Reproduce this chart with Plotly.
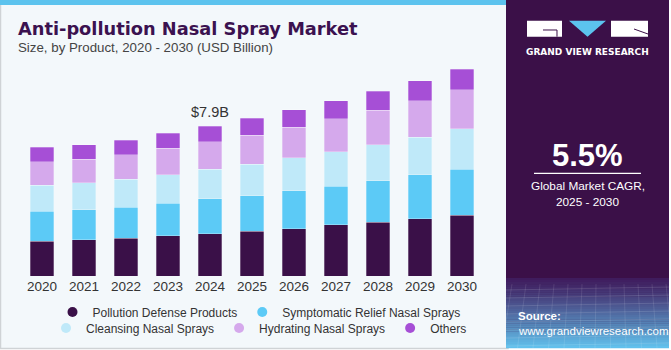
import plotly.graph_objects as go

years = ["2020", "2021", "2022", "2023", "2024", "2025", "2026", "2027", "2028", "2029", "2030"]
pollution_defense = [1.84, 1.90, 1.98, 2.12, 2.23, 2.35, 2.49, 2.69, 2.84, 3.02, 3.21]
symptomatic_relief = [1.58, 1.60, 1.65, 1.71, 1.83, 1.88, 1.99, 2.05, 2.18, 2.30, 2.42]
cleansing = [1.37, 1.40, 1.46, 1.49, 1.56, 1.65, 1.75, 1.81, 1.88, 1.99, 2.12]
hydrating = [1.23, 1.26, 1.30, 1.40, 1.44, 1.54, 1.60, 1.72, 1.83, 1.93, 2.05]
others = [0.76, 0.75, 0.77, 0.79, 0.84, 0.88, 0.93, 0.96, 1.00, 1.05, 1.09]

series = [
    ("Pollution Defense Products", pollution_defense, "#3a1048", "legend"),
    ("Symptomatic Relief Nasal Sprays", symptomatic_relief, "#5ccaf6", "legend"),
    ("Cleansing Nasal Sprays", cleansing, "#bfe9f9", "legend2"),
    ("Hydrating Nasal Sprays", hydrating, "#d5a9ec", "legend2"),
    ("Others", others, "#a64fd6", "legend2"),
]

W, H = 671, 350
L, R, T, B = 21, 188, 60, 74
PW, PH = W - L - R, H - T - B


def px(x):
    return (x - L) / PW


def py(y):
    return (H - B - y) / PH


fig = go.Figure()
for name, vals, color, lg in series:
    fig.add_trace(go.Bar(
        x=years, y=vals, name=name, marker_color=color,
        marker_line=dict(color="rgba(255,255,255,0.35)", width=0.8),
        showlegend=False,
    ))
for name, vals, color, lg in series:
    fig.add_trace(go.Scatter(
        x=[years[0]], y=[None], mode="markers", name=name,
        marker=dict(color=color, size=10, symbol="circle"),
        legend=lg, showlegend=True, hoverinfo="skip",
    ))

shapes = []
# left panel background + border
shapes.append(dict(type="rect", xref="paper", yref="paper", x0=px(0.5), x1=px(508), y0=py(0), y1=py(348.5),
                   fillcolor="#f3f8fb", line=dict(color="#cfd3d6", width=1.5), layer="below"))
shapes.append(dict(type="rect", xref="paper", yref="paper", x0=px(0), x1=px(508), y0=py(0), y1=py(5),
                   fillcolor="#5cc3ee", line=dict(width=0), layer="below"))
# right panel
shapes.append(dict(type="rect", xref="paper", yref="paper", x0=px(506), x1=px(669), y0=py(0), y1=py(348),
                   fillcolor="#3b1048", line=dict(width=0), layer="below"))


def lerp(c1, c2, t):
    a = [int(c1[i:i + 2], 16) for i in (1, 3, 5)]
    b = [int(c2[i:i + 2], 16) for i in (1, 3, 5)]
    return "rgb(%d,%d,%d)" % tuple(round(a[k] + (b[k] - a[k]) * t) for k in range(3))


n = 34
y_start, y_end = 278, 348
for i in range(n):
    y0 = y_start + (y_end - y_start) * i / n
    y1 = y_start + (y_end - y_start) * (i + 1) / n
    t = (i + 0.5) / n
    shapes.append(dict(type="rect", xref="paper", yref="paper", x0=px(506), x1=px(669), y0=py(y0), y1=py(y1 + 0.3),
                       fillcolor=lerp("#3f1a5c", "#62c3ee", t ** 1.1), line=dict(width=0), layer="below"))
# faint grid lines in the bottom decoration
for k in range(8):
    yy = 290 + k * 8
    shapes.append(dict(type="line", xref="paper", yref="paper", x0=px(506), x1=px(669), y0=py(yy), y1=py(yy - 3),
                       line=dict(color="rgba(255,255,255,0.12)", width=1), layer="below"))
for k in range(12):
    xx = 512 + k * 14
    shapes.append(dict(type="line", xref="paper", yref="paper", x0=px(xx), x1=px(xx - 10 + k * 1.5), y0=py(284), y1=py(348),
                       line=dict(color="rgba(255,255,255,0.10)", width=1), layer="below"))

# logo
shapes.append(dict(type="rect", xref="paper", yref="paper", x0=px(527), x1=px(562), y0=py(20.7), y1=py(36.7),
                   fillcolor="white", line=dict(width=0)))
shapes.append(dict(type="path", xref="paper", yref="paper",
                   path="M %f,%f L %f,%f L %f,%f Z" % (px(569), py(20.7), px(606), py(20.7), px(587.5), py(36.7)),
                   fillcolor="#5cc3ee", line=dict(width=0)))
shapes.append(dict(type="rect", xref="paper", yref="paper", x0=px(611), x1=px(648), y0=py(20.7), y1=py(36.7),
                   fillcolor="white", line=dict(width=0)))
shapes.append(dict(type="path", xref="paper", yref="paper",
                   path="M %f,%f L %f,%f L %f,%f" % (px(543), py(30), px(557), py(30), px(557), py(36.7)),
                   line=dict(color="#3b1048", width=1)))
shapes.append(dict(type="line", xref="paper", yref="paper", x0=px(634), x1=px(648), y0=py(29), y1=py(34),
                   line=dict(color="#3b1048", width=1)))
# CAGR divider
shapes.append(dict(type="line", xref="paper", yref="paper", x0=px(534), x1=px(641), y0=py(173.3), y1=py(173.3),
                   line=dict(color="white", width=1.2)))

annotations = []
SANS = "Liberation Sans, Arial, sans-serif"


def ann(text, x, y, size, color, xanchor="left", bold=False, family=SANS):
    if bold:
        text = "<b>%s</b>" % text
    annotations.append(dict(text=text, x=px(x), y=py(y), xref="paper", yref="paper", xanchor=xanchor,
                            yanchor="middle", showarrow=False, font=dict(size=size, color=color, family=family)))


ann("Anti-pollution Nasal Spray Market", 16, 29, 17.8, "#3b1250", bold=True, family="DejaVu Sans, sans-serif")
ann("Size, by Product, 2020 - 2030 (USD Billion)", 16, 48, 13.3, "#444444")
ann("GRAND VIEW RESEARCH", 587.5, 52, 9, "white", xanchor="center", bold=True, family="DejaVu Sans, sans-serif")
ann("5.5%", 587.5, 155, 31, "white", xanchor="center", bold=True)
ann("Global Market CAGR,", 587.5, 186, 11.8, "white", xanchor="center")
ann("2025 - 2030", 587.5, 202, 11.8, "white", xanchor="center")
ann("Source:", 516, 316, 11.5, "white", bold=True)
ann("www.grandviewresearch.com", 516, 331, 11.5, "white")

i2024 = years.index("2024")
total_2024 = sum(s[1][i2024] for s in series)
annotations.append(dict(text="$%.1fB" % total_2024, x=i2024, y=total_2024, xref="x", yref="y",
                        yanchor="bottom", yshift=4, showarrow=False,
                        font=dict(size=14.5, color="#333333", family=SANS)))

legend_font = dict(size=12, color="#333333", family=SANS)
fig.update_layout(
    width=W, height=H,
    margin=dict(l=L, r=R, t=T, b=B, autoexpand=False),
    paper_bgcolor="white",
    plot_bgcolor="rgba(0,0,0,0)",
    barmode="stack",
    bargap=0.44,
    shapes=shapes,
    annotations=annotations,
    xaxis=dict(type="category", categoryorder="array", categoryarray=years, range=[-0.5, len(years) - 0.5],
               showgrid=False, zeroline=False, showline=False, ticks="",
               tickfont=dict(size=13.5, color="#333333", family=SANS)),
    yaxis=dict(range=[0, PH * 7.9 / 150], visible=False, showgrid=False),
    legend=dict(orientation="h", xref="container", yref="container", x=259 / W, y=(H - 312) / H,
                xanchor="center", yanchor="middle", traceorder="normal",
                font=legend_font, bgcolor="rgba(0,0,0,0)", itemwidth=30, tracegroupgap=0),
    legend2=dict(orientation="h", xref="container", yref="container", x=259 / W, y=(H - 328) / H,
                 xanchor="center", yanchor="middle", traceorder="normal",
                 font=legend_font, bgcolor="rgba(0,0,0,0)", itemwidth=30, tracegroupgap=0),
    showlegend=True,
)

fig.write_html("out.html")
